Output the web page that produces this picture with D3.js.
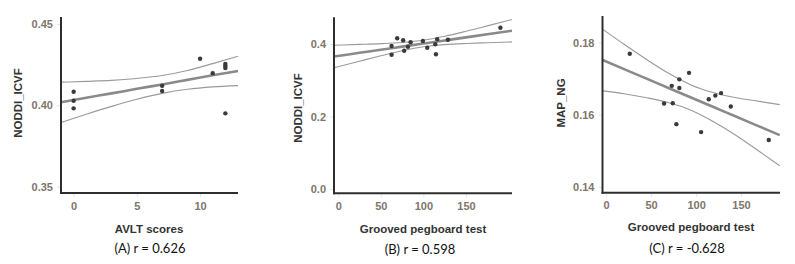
<!DOCTYPE html>
<html>
<head>
<meta charset="utf-8">
<script src="https://cdn.jsdelivr.net/npm/d3@7"></script>
<style>
  html, body { margin: 0; padding: 0; background: #ffffff; }
  svg { display: block; }
</style>
</head>
<body>
<svg id="chart" width="795" height="264"></svg>
<script>
// ---------- Panel A: AVLT scores vs NODDI_ICVF ----------
const aX = [0, 0, 0, 7, 7, 10, 11, 12, 12, 12, 12];
const aY = [0.4083, 0.4028, 0.3981, 0.4120, 0.4088, 0.4286, 0.4197, 0.4254, 0.4242, 0.4229, 0.3950];
const aLineX = [-1, 1, 3, 5, 7, 9, 11, 13];
const aFit   = [0.4018, 0.4046, 0.4073, 0.4101, 0.4128, 0.4156, 0.4184, 0.4211];
const aUpper = [0.4142, 0.4147, 0.4153, 0.4165, 0.4183, 0.4214, 0.4256, 0.4301];
const aLower = [0.3894, 0.3945, 0.3993, 0.4037, 0.4073, 0.4098, 0.4113, 0.4121];
const aXTicks = [0, 5, 10];
const aYTicks = [0.35, 0.40, 0.45];

// ---------- Panel B: Grooved pegboard test vs NODDI_ICVF ----------
const bX = [62.6, 62.6, 69.2, 76.2, 77.4, 81.8, 84.9, 99.4, 104.5, 113.9, 116.2, 114.7, 128.8, 190.4];
const bY = [0.3945, 0.3705, 0.4157, 0.4102, 0.3815, 0.3926, 0.4047, 0.4083, 0.3898, 0.3992, 0.4130, 0.3716, 0.4119, 0.4450];
const bLineX = [-5, 25, 50, 75, 100, 125, 150, 175, 204];
const bFit   = [0.3655, 0.3757, 0.3842, 0.3928, 0.4013, 0.4098, 0.4183, 0.4268, 0.4367];
const bUpper = [0.3967, 0.3989, 0.4010, 0.4043, 0.4103, 0.4213, 0.4351, 0.4500, 0.4676];
const bLower = [0.3343, 0.3525, 0.3674, 0.3813, 0.3923, 0.3983, 0.4015, 0.4036, 0.4058];
const bXTicks = [0, 50, 100, 150];
const bYTicks = [0.0, 0.2, 0.4];

// ---------- Panel C: Grooved pegboard test vs MAP_NG ----------
const cX = [26.3, 64.4, 73.0, 74.1, 78.1, 81.4, 81.4, 92.2, 105.6, 114.1, 121.4, 127.8, 138.6, 180.8];
const cY = [0.1769, 0.1631, 0.1680, 0.1632, 0.1574, 0.1698, 0.1674, 0.1716, 0.1552, 0.1643, 0.1653, 0.1660, 0.1623, 0.1530];
const cLineX = [-4, 20, 45, 70, 95, 120, 145, 170, 193];
const cFit   = [0.17516, 0.17263, 0.16999, 0.16735, 0.16471, 0.16207, 0.15943, 0.15679, 0.15436];
const cUpper = [0.1837, 0.1795, 0.1753, 0.1714, 0.1682, 0.1661, 0.1647, 0.1637, 0.1628];
const cLower = [0.1666, 0.1658, 0.1647, 0.1633, 0.1612, 0.1580, 0.1542, 0.1499, 0.1459];
const cXTicks = [0, 50, 100, 150];
const cYTicks = [0.14, 0.16, 0.18];

const svg = d3.select("#chart");

const panels = [
  { xs: aX, ys: aY, lx: aLineX, fit: aFit, up: aUpper, lo: aLower,
    xt: aXTicks, yt: aYTicks, yfmt: ".2f",
    xDom: [-1, 13], xRange: [61, 238], yDom: [0.346, 0.4543], yRange: [193, 17],
    xTitle: "AVLT scores", yTitle: "NODDI_ICVF", caption: "(A) r = 0.626",
    xTitlePos: [149, 232.5], yTitlePos: [18, 103], capPos: [150, 252.5] },
  { xs: bX, ys: bY, lx: bLineX, fit: bFit, up: bUpper, lo: bLower,
    xt: bXTicks, yt: bYTicks, yfmt: ".1f",
    xDom: [-5, 204], xRange: [334, 512], yDom: [-0.0119, 0.4737], yRange: [193.3, 17.3],
    xTitle: "Grooved pegboard test", yTitle: "NODDI_ICVF", caption: "(B) r = 0.598",
    xTitlePos: [423, 232.5], yTitlePos: [297.5, 108], capPos: [420, 254] },
  { xs: cX, ys: cY, lx: cLineX, fit: cFit, up: cUpper, lo: cLower,
    xt: cXTicks, yt: cYTicks, yfmt: ".2f",
    xDom: [-4, 193.3], xRange: [602.5, 780], yDom: [0.13842, 0.18734], yRange: [192.7, 16],
    xTitle: "Grooved pegboard test", yTitle: "MAP_NG", caption: "(C) r = -0.628",
    xTitlePos: [691, 230.5], yTitlePos: [561, 103], capPos: [687, 252.5] }
];

const tickColor = "#7e756c";
const axisColor = "#2e2e2e";

panels.forEach(p => {
  const x = d3.scaleLinear().domain(p.xDom).range(p.xRange);
  const y = d3.scaleLinear().domain(p.yDom).range(p.yRange);
  const g = svg.append("g");

  // y axis ticks/labels
  const yAx = g.append("g")
    .attr("transform", `translate(${p.xRange[0] - 1},0)`)
    .call(d3.axisLeft(y).tickValues(p.yt).tickFormat(d3.format(p.yfmt)).tickSize(3).tickPadding(4));
  yAx.select(".domain").remove();
  yAx.selectAll(".tick line").attr("stroke", "#e4e4e4");
  yAx.selectAll(".tick text")
    .attr("fill", tickColor).style("font-family", "'Liberation Sans', Arial, sans-serif")
    .style("font-weight", "bold").style("font-size", "11px");

  // x axis ticks/labels
  const xAx = g.append("g")
    .attr("transform", `translate(0,${p.yRange[0] + 1})`)
    .call(d3.axisBottom(x).tickValues(p.xt).tickFormat(d3.format("d")).tickSize(3).tickPadding(5));
  xAx.select(".domain").remove();
  xAx.selectAll(".tick line").attr("stroke", "#e4e4e4");
  xAx.selectAll(".tick text")
    .attr("fill", tickColor).style("font-family", "'Liberation Sans', Arial, sans-serif")
    .style("font-weight", "bold").style("font-size", "11px");

  // CI and fit lines
  const mk = arr => d3.line().x((d, i) => x(p.lx[i])).y(d => y(d)).curve(d3.curveMonotoneX)(arr);
  g.append("path").attr("d", mk(p.up)).attr("fill", "none").attr("stroke", "#9a9a9a").attr("stroke-width", 1.1);
  g.append("path").attr("d", mk(p.lo)).attr("fill", "none").attr("stroke", "#9a9a9a").attr("stroke-width", 1.1);
  g.append("path").attr("d", mk(p.fit)).attr("fill", "none").attr("stroke", "#8a8a8a").attr("stroke-width", 2.6);

  // points
  g.selectAll("circle.pt").data(p.xs).enter().append("circle")
    .attr("class", "pt")
    .attr("cx", d => x(d))
    .attr("cy", (d, i) => y(p.ys[i]))
    .attr("r", 2.2)
    .attr("fill", "#3a3a3a");

  // axis lines
  g.append("line")
    .attr("x1", p.xRange[0]).attr("x2", p.xRange[0])
    .attr("y1", p.yRange[1]).attr("y2", p.yRange[0] + 1)
    .attr("stroke", axisColor).attr("stroke-width", 2);
  g.append("line")
    .attr("x1", p.xRange[0] - 1).attr("x2", p.xRange[1])
    .attr("y1", p.yRange[0]).attr("y2", p.yRange[0])
    .attr("stroke", axisColor).attr("stroke-width", 2);

  // titles
  g.append("text")
    .attr("x", p.xTitlePos[0]).attr("y", p.xTitlePos[1])
    .attr("text-anchor", "middle")
    .attr("fill", "#333333")
    .style("font-family", "'Liberation Sans', Arial, sans-serif")
    .style("font-weight", "bold").style("font-size", "11.5px")
    .text(p.xTitle);
  g.append("text")
    .attr("transform", `translate(${p.yTitlePos[0]},${p.yTitlePos[1]}) rotate(-90)`)
    .attr("text-anchor", "middle")
    .attr("dominant-baseline", "central")
    .attr("fill", "#333333")
    .style("font-family", "'Liberation Sans', Arial, sans-serif")
    .style("font-weight", "bold").style("font-size", "11.5px")
    .text(p.yTitle);

  // caption
  g.append("text")
    .attr("x", p.capPos[0]).attr("y", p.capPos[1])
    .attr("text-anchor", "middle")
    .attr("fill", "#111111")
    .style("font-family", "Lato, 'Open Sans', sans-serif")
    .style("font-size", "13px")
    .text(p.caption);
});
</script>
</body>
</html>
